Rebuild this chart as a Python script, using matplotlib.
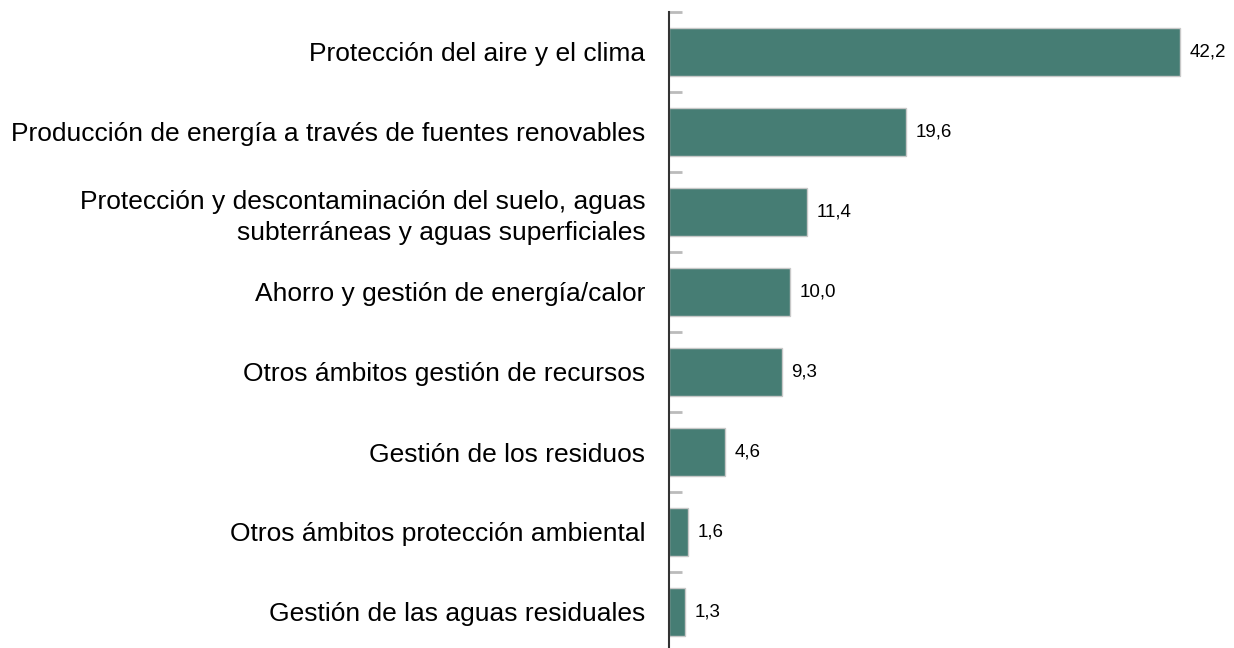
import matplotlib.pyplot as plt
import numpy as np

plt.rcParams["font.family"] = ["Liberation Sans", "DejaVu Sans"]

categorias = [
    "Protección del aire y el clima",
    "Producción de energía a través de fuentes renovables",
    "Protección y descontaminación del suelo, aguas\nsubterráneas y aguas superficiales",
    "Ahorro y gestión de energía/calor",
    "Otros ámbitos gestión de recursos",
    "Gestión de los residuos",
    "Otros ámbitos protección ambiental",
    "Gestión de las aguas residuales",
]
valores = [42.2, 19.6, 11.4, 10.0, 9.3, 4.6, 1.6, 1.3]

fig = plt.figure(figsize=(12.34, 6.48), dpi=100)
ax = fig.add_axes([669 / 1234, -4 / 648, 1 - 669 / 1234, 640 / 648])

y = np.arange(len(categorias))
ax.barh(y, valores, height=0.61, color="#467d74", edgecolor="#c8c8c8", linewidth=1)

for yi, v in zip(y, valores):
    ax.text(v + 0.8, yi, f"{v:.1f}".replace(".", ","), va="center", ha="left", fontsize=13.5)

ax.set_ylim(len(categorias) - 0.5, -0.5)
ax.set_xlim(0, (1234 - 669) / 12.11)

ax.set_yticks(y)
ax.set_yticklabels(categorias, fontsize=19, ha="right", linespacing=1.35)
ax.tick_params(axis="y", which="major", length=0, pad=17)
ax.set_yticks(np.arange(len(categorias)) - 0.5, minor=True)
ax.tick_params(axis="y", which="minor", direction="in", length=9, width=2, color="#bbbbbb")

ax.set_xticks([])
for s in ["top", "right", "bottom"]:
    ax.spines[s].set_visible(False)
ax.spines["left"].set_color("#333333")
ax.spines["left"].set_linewidth(1.5)

fig.savefig("out.png", dpi=100)
